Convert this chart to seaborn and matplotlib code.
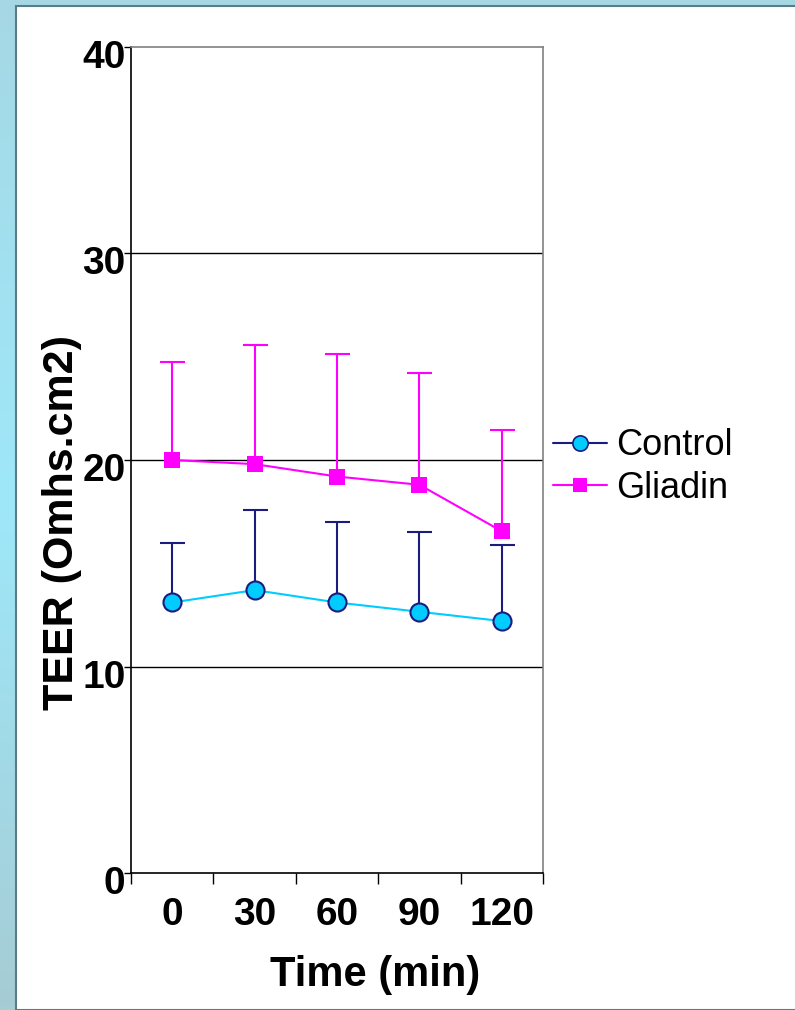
import numpy as np
import pandas as pd
import matplotlib
matplotlib.use("Agg")
import matplotlib.pyplot as plt
import matplotlib.transforms as mtrans
from matplotlib.lines import Line2D
from matplotlib.patches import Rectangle
import seaborn as sns

# ---- data ----
time_labels = ["0", "30", "60", "90", "120"]
control_mean = [13.1, 13.7, 13.1, 12.65, 12.2]
control_upper = [16.0, 17.6, 17.0, 16.5, 15.9]
gliadin_mean = [20.0, 19.8, 19.2, 18.8, 16.55]
gliadin_upper = [24.75, 25.55, 25.15, 24.2, 21.45]
y_ticks = [0, 10, 20, 30, 40]

sns.set_theme(style="white")
plt.rcParams['font.family'] = ['Liberation Sans', 'DejaVu Sans']
plt.rcParams['text.color'] = 'black'
plt.rcParams['xtick.color'] = 'black'
plt.rcParams['ytick.color'] = 'black'

W, H = 795, 1010
fig = plt.figure(figsize=(W / 100, H / 100), dpi=100)

# background gradient + white panel
bg = fig.add_axes([0, 0, 1, 1], zorder=-10)
grad_top = np.array([0xA6, 0xD8, 0xE4]) / 255
grad_mid = np.array([0x9E, 0xE8, 0xFA]) / 255
grad_bot = np.array([0xA6, 0xCC, 0xD4]) / 255
t = np.linspace(0, 1, 256)[:, None]
col = np.where(t < 0.5, grad_top + (grad_mid - grad_top) * (t / 0.5),
               grad_mid + (grad_bot - grad_mid) * ((t - 0.5) / 0.5))
bg.imshow(col[:, None, :], aspect='auto', extent=[0, 1, 0, 1], origin='upper')
bg.add_patch(Rectangle((15.5 / W, 0), 1, 1 - 5.5 / H, facecolor='white',
                       edgecolor='#5a7c88', linewidth=1.5, transform=bg.transAxes))
bg.set_xlim(0, 1)
bg.set_ylim(0, 1)
bg.axis('off')

ax = fig.add_axes([131 / W, 1 - 873 / H, 412 / W, 826 / H])
ax.set_facecolor('white')

x = np.arange(len(time_labels))
df = pd.DataFrame({
    "x": np.concatenate([x, x]),
    "y": control_mean + gliadin_mean,
    "group": ["Control"] * len(x) + ["Gliadin"] * len(x),
})

# gridlines
for yv in y_ticks[1:-1]:
    ax.axhline(yv, color='black', lw=1.0, zorder=1)

# error bars (upper only)
navy = '#1c1c80'
cyan = '#00CCFF'
mag = '#FF00FF'
cm = np.array(control_mean); gm = np.array(gliadin_mean)
eb1 = ax.errorbar(x, cm, yerr=[np.zeros_like(cm), np.array(control_upper) - cm], fmt='none',
                  ecolor=navy, elinewidth=1.5, capsize=9, capthick=1.5, zorder=2)
eb2 = ax.errorbar(x, gm, yerr=[np.zeros_like(gm), np.array(gliadin_upper) - gm], fmt='none',
                  ecolor=mag, elinewidth=1.5, capsize=9, capthick=1.5, zorder=2)
for eb in (eb1, eb2):
    eb[1][0].set_visible(False)   # hide lower caps

sns.lineplot(data=df[df.group == "Control"], x="x", y="y", ax=ax, color=cyan, lw=1.5,
             marker='o', markersize=13, markerfacecolor=cyan, markeredgecolor=navy,
             markeredgewidth=1.5, legend=False, zorder=3, sort=False)
sns.lineplot(data=df[df.group == "Gliadin"], x="x", y="y", ax=ax, color=mag, lw=1.5,
             marker='s', markersize=11, markerfacecolor=mag, markeredgecolor=mag,
             markeredgewidth=0, legend=False, zorder=3, sort=False)

ax.set_xlim(-0.5, len(x) - 0.5)
ax.set_ylim(0, 40)
ax.set_yticks(y_ticks)
ax.set_yticklabels([str(v) for v in y_ticks], fontsize=28, fontweight='bold', color='black')
ax.set_xticks(x)
ax.set_xticklabels(time_labels, fontsize=28, fontweight='bold', color='black')
ax.set_xticks(np.arange(-0.5, len(x), 1.0), minor=True)
ax.tick_params(axis='x', which='major', length=0, pad=17)
ax.tick_params(axis='x', which='minor', length=8, width=1, color='black', direction='out', bottom=True)
ax.tick_params(axis='y', length=5, width=1, color='black', direction='out', left=True, pad=-1)

# shift y tick labels slightly down, as in reference
offset = mtrans.ScaledTranslation(0, -7 / 100, fig.dpi_scale_trans)
for lab in ax.get_yticklabels():
    lab.set_transform(lab.get_transform() + offset)

for s in ['left', 'bottom']:
    ax.spines[s].set_color('black'); ax.spines[s].set_linewidth(1.2)
for s in ['top', 'right']:
    ax.spines[s].set_color('#808080'); ax.spines[s].set_linewidth(1.2)

ax.set_xlabel("")
ax.set_ylabel("")
fig.text(375 / W, 1 - 975 / H, "Time (min)", fontsize=30, fontweight='bold',
         ha='center', va='center', color='black')
fig.text(62 / W, 1 - 522 / H, "TEER (Omhs.cm2)", fontsize=31, fontweight='bold',
         ha='center', va='center', rotation=90, color='black')

handles = [
    Line2D([], [], color=navy, lw=1.5, marker='o', markersize=11, markerfacecolor=cyan,
           markeredgecolor=navy, markeredgewidth=1.2),
    Line2D([], [], color=mag, lw=1.5, marker='s', markersize=10, markerfacecolor=mag,
           markeredgewidth=0),
]
fig.legend(handles, ["Control", "Gliadin"], loc='center left',
           bbox_to_anchor=(553 / W, 1 - 467 / H), frameon=False, fontsize=26,
           handlelength=1.5, handletextpad=0.25, labelspacing=0.2, borderpad=0,
           borderaxespad=0, labelcolor='black')

fig.savefig("out.png", dpi=100)
